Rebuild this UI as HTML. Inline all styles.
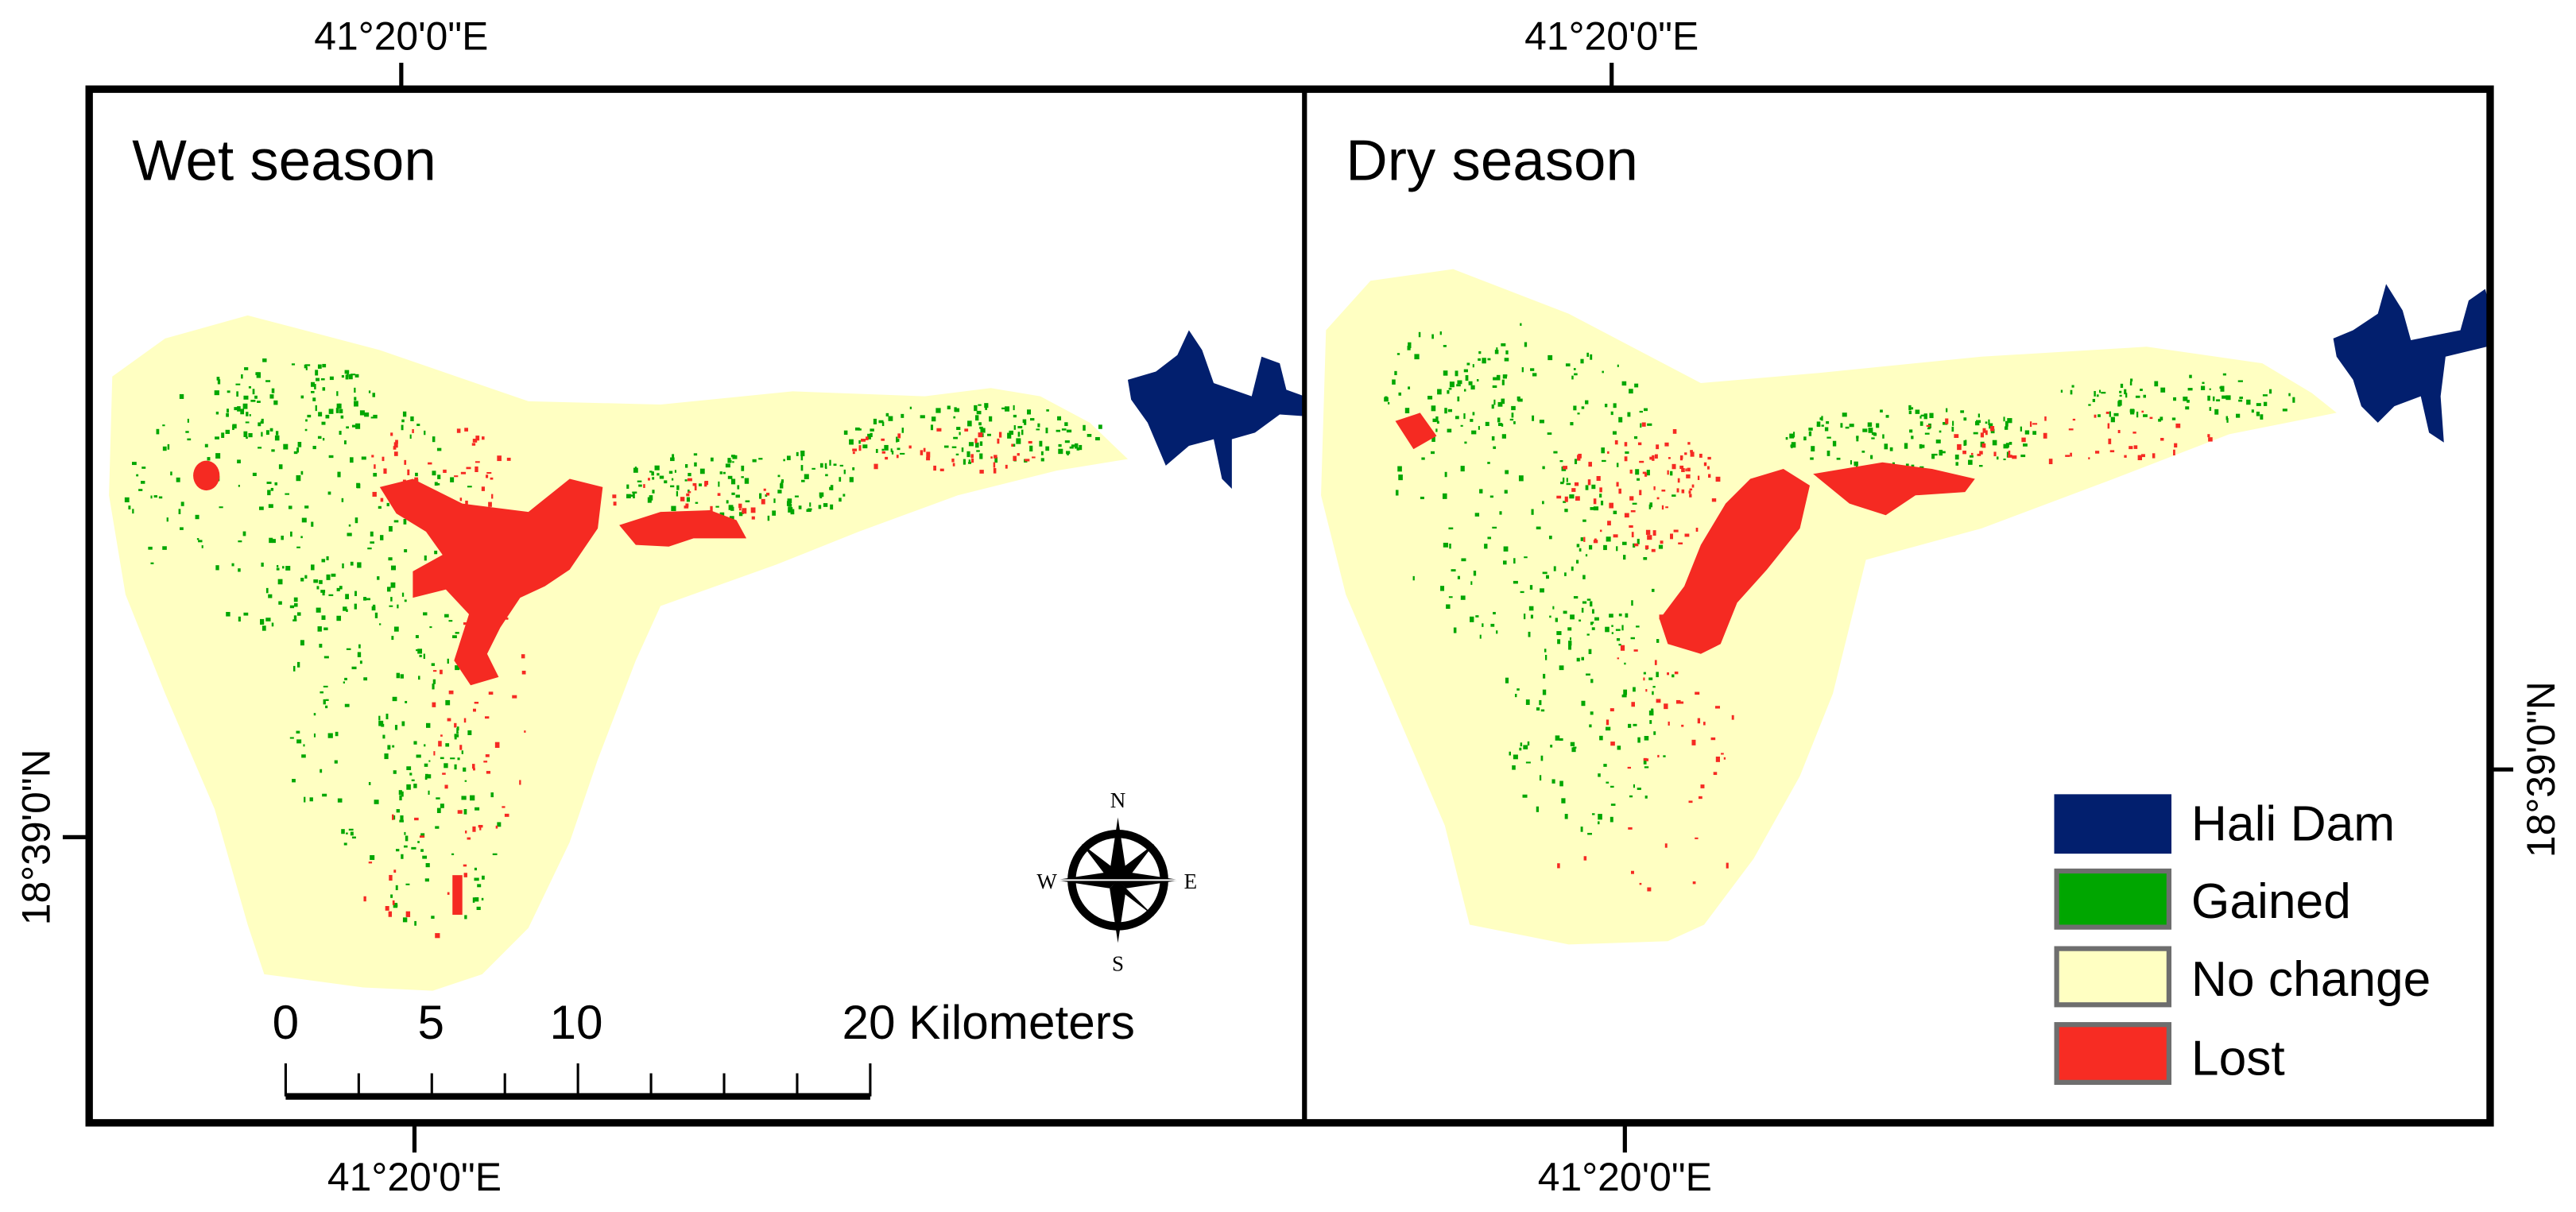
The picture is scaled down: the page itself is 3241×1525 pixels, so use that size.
<!DOCTYPE html>
<html><head><meta charset="utf-8">
<style>
html,body{margin:0;padding:0;background:#fff;}
svg{display:block;}
text{font-family:"Liberation Sans",Arial,sans-serif;fill:#000;}
</style></head>
<body>
<svg id="map" width="3241" height="1525" viewBox="0 0 1560 734" preserveAspectRatio="none" xmlns="http://www.w3.org/2000/svg">
  <rect x="0" y="0" width="1560" height="734" fill="#fff"/>
  <g>
    <polygon fill="#FFFFC2" points="68,228 100,205 150,191 230,212 320,243 400,245 480,237 560,240 600,235 630,240 660,256 683,278 640,285 580,300 520,322 470,342 400,367 385,400 362,460 345,510 320,562 292,590 262,600 220,598 160,590 150,560 130,490 100,420 76,360 66,300"/>
    <polygon fill="#021F6E" points="683,230 700,225 713,215 720,200 728,212 735,232 758,240 764,216 775,220 779,236 790,240 790,252 775,251 760,262 746,266 746,296 740,290 735,266 720,270 706,282 695,256 685,242"/>
    <g id="wet-speckles"></g>
    <polygon fill="#F52A22" points="230,295 250,290 280,305 320,310 345,290 365,295 362,320 345,345 330,355 315,362 303,380 295,396 302,410 285,415 275,400 284,372 270,357 250,362 250,346 268,336 258,322 240,311"/>
    <polygon fill="#F52A22" points="375,318 400,310 430,309 446,315 452,326 420,326 405,331 385,330"/>
    <ellipse fill="#F52A22" cx="125" cy="288" rx="8" ry="9"/>
    <rect fill="#F52A22" x="274" y="530" width="6" height="24"/>
    <text x="80" y="109" font-size="35">Wet season</text>
    <g transform="translate(677,533)">
      <circle r="28" fill="none" stroke="#000" stroke-width="5"/>
      <polygon points="0,-38 5,-5 0,0 -5,-5" fill="#000"/>
      <polygon points="0,38 5,5 0,0 -5,5" fill="#000"/>
      <polygon points="-38,0 -5,-5 0,0 -5,5" fill="#000"/>
      <polygon points="38,0 5,5 0,0 5,-5" fill="#000"/>
      <polygon points="-22,-22 3,-3 0,0 -3,3" fill="#000"/>
      <polygon points="22,-22 3,3 0,0 -3,-3" fill="#000"/>
      <polygon points="-22,22 -3,3 0,0 3,-3" fill="#000"/>
      <polygon points="22,22 -3,3 0,0 3,3" fill="#000"/>
      <line x1="-38" y1="0" x2="38" y2="0" stroke="#fff" stroke-width="1"/>
      <text x="0" y="-44" font-size="13" text-anchor="middle" style="font-family:'Liberation Serif',serif">N</text>
      <text x="0" y="55" font-size="13" text-anchor="middle" style="font-family:'Liberation Serif',serif">S</text>
      <text x="-43" y="5" font-size="13" text-anchor="middle" style="font-family:'Liberation Serif',serif">W</text>
      <text x="44" y="5" font-size="13" text-anchor="middle" style="font-family:'Liberation Serif',serif">E</text>
    </g>
    <g>
      <rect x="173" y="662" width="354" height="4" fill="#000"/>
      <g id="scale-ticks"></g>
      <text x="173" y="629" font-size="29" text-anchor="middle">0</text>
      <text x="261" y="629" font-size="29" text-anchor="middle">5</text>
      <text x="349" y="629" font-size="29" text-anchor="middle">10</text>
      <text x="510" y="629" font-size="29">20 Kilometers</text>
    </g>
  </g>
  <g>
    <polygon fill="#FFFFC2" points="803,200 830,170 880,163 950,190 1030,232 1100,226 1200,216 1300,210 1370,220 1400,238 1415,250 1350,263 1280,290 1200,320 1130,339 1110,420 1090,470 1062,520 1032,560 1010,570 950,572 890,560 875,500 845,430 815,360 800,300"/>
    <polygon fill="#021F6E" points="1413,205 1425,200 1440,190 1445,172 1455,188 1460,206 1490,200 1495,182 1505,175 1509,190 1506,210 1481,216 1478,240 1480,268 1471,262 1466,240 1450,246 1440,256 1430,246 1425,230 1415,216"/>
    <g id="dry-speckles"></g>
    <polygon fill="#F52A22" points="1060,290 1080,284 1096,294 1090,320 1070,345 1052,365 1042,390 1030,396 1010,390 1005,375 1020,355 1030,330 1045,305"/>
    <polygon fill="#F52A22" points="1098,287 1140,280 1170,284 1196,290 1190,298 1160,300 1142,312 1120,305"/>
    <polygon fill="#F52A22" points="845,255 860,250 870,264 856,272"/>
    <text x="815" y="109" font-size="35">Dry season</text>
    <g>
      <rect x="1244" y="481" width="71" height="36" fill="#021F6E"/>
      <rect x="1245.5" y="527.5" width="68" height="34" fill="#00A600" stroke="#6e6e6e" stroke-width="3"/>
      <rect x="1245.5" y="574.5" width="68" height="34" fill="#FFFFC2" stroke="#6e6e6e" stroke-width="3"/>
      <rect x="1245.5" y="620.5" width="68" height="35" fill="#F72C23" stroke="#6e6e6e" stroke-width="3"/>
      <text x="1327" y="509" font-size="30">Hali Dam</text>
      <text x="1327" y="556" font-size="30">Gained</text>
      <text x="1327" y="603" font-size="30">No change</text>
      <text x="1327" y="651" font-size="30">Lost</text>
    </g>
  </g>
  <rect x="54" y="54" width="1454" height="626" fill="none" stroke="#000" stroke-width="4.5"/>
  <line x1="790" y1="54" x2="790" y2="680" stroke="#000" stroke-width="3"/>
  <g stroke="#000" stroke-width="2.5">
    <line x1="243" y1="38" x2="243" y2="54"/>
    <line x1="976" y1="38" x2="976" y2="54"/>
    <line x1="251" y1="680" x2="251" y2="698"/>
    <line x1="984" y1="680" x2="984" y2="698"/>
    <line x1="38" y1="507" x2="54" y2="507"/>
    <line x1="1508" y1="466" x2="1522" y2="466"/>
  </g>
  <text x="243" y="30" font-size="24" text-anchor="middle">41°20'0"E</text>
  <text x="976" y="30" font-size="24" text-anchor="middle">41°20'0"E</text>
  <text x="251" y="721" font-size="24" text-anchor="middle">41°20'0"E</text>
  <text x="984" y="721" font-size="24" text-anchor="middle">41°20'0"E</text>
  <text transform="translate(30,507) rotate(-90)" font-size="24" text-anchor="middle">18°39'0"N</text>
  <text transform="translate(1547,466) rotate(-90)" font-size="24" text-anchor="middle">18°39'0"N</text>
</svg>
<script>
const scaleKm = [0, 2.5, 5, 7.5, 10, 12.5, 15, 17.5, 20];
const scaleMajor = [0, 10, 20];
// speckle clusters: [cx, cy, rx, ry, count, colour-key]
const wetClusters = [
  [180,300,105,85,200,'g'],[225,420,60,100,130,'g'],[265,500,40,70,60,'g'],
  [450,292,75,22,120,'g'],[590,262,80,18,110,'g'],[175,245,55,28,60,'g'],
  [265,285,45,30,50,'r'],[290,430,30,80,45,'r'],[570,272,60,14,40,'r'],
  [420,302,50,16,30,'r'],[250,540,40,50,15,'r']
];
const dryClusters = [
  [930,300,85,105,200,'g'],[960,430,55,75,100,'g'],[880,230,45,35,50,'g'],
  [1160,265,80,20,110,'g'],[1320,240,75,15,70,'g'],
  [990,295,50,40,90,'r'],[1010,430,40,60,40,'r'],[1250,262,90,16,50,'r'],
  [1000,520,60,35,10,'r']
];
const colours = {g:'#00A600', r:'#F52A22'};
let seed = 12345;
function rnd(){ seed = (seed*1103515245 + 12345) % 2147483648; return seed/2147483648; }
const NS = 'http://www.w3.org/2000/svg';
function drawClusters(id, clusters){
  const g = document.getElementById(id);
  clusters.forEach(c => {
    for (let i=0;i<c[4];i++){
      const a = rnd()*Math.PI*2, r = Math.sqrt(rnd());
      const x = c[0] + Math.cos(a)*r*c[2], y = c[1] + Math.sin(a)*r*c[3];
      const el = document.createElementNS(NS,'rect');
      
      
      el.setAttribute('x', x.toFixed(1));
      el.setAttribute('y', y.toFixed(1));
      el.setAttribute('width', (1+rnd()*2).toFixed(1));
      el.setAttribute('height', (1+rnd()*2.5).toFixed(1));
      el.setAttribute('fill', colours[c[5]]);
      g.appendChild(el);
    }
  });
}
drawClusters('wet-speckles', wetClusters);
drawClusters('dry-speckles', dryClusters);
const sx = km => 173 + km*(527-173)/20;
const tg = document.getElementById('scale-ticks');
scaleKm.forEach(k => {
  const t = document.createElementNS(NS,'line');
  
  
  t.setAttribute('x1', sx(k)); t.setAttribute('x2', sx(k));
  t.setAttribute('y1', scaleMajor.includes(k) ? 644 : 650);
  t.setAttribute('y2', 664);
  t.setAttribute('stroke', '#000'); t.setAttribute('stroke-width', '1.5');
  tg.appendChild(t);
});
</script>
</body></html>
